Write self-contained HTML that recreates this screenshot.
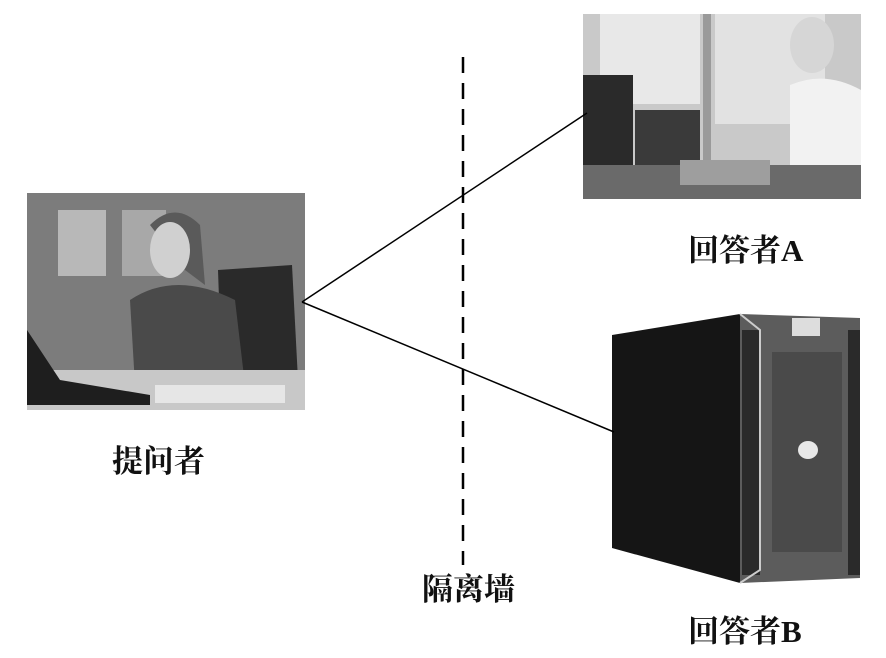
<!DOCTYPE html>
<html><head><meta charset="utf-8"><style>
body{margin:0;background:#fff;}
svg{display:block}
text{font-family:"Liberation Serif","Noto Serif CJK SC",serif;font-weight:bold;font-size:31px;fill:#111}
</style></head><body>
<svg width="886" height="658" viewBox="0 0 886 658" xmlns="http://www.w3.org/2000/svg">
<!-- left photo -->
<rect x="27" y="193" width="278" height="217" fill="#7c7c7c"/>
<rect x="58" y="210" width="48" height="66" fill="#b8b8b8"/>
<rect x="122" y="210" width="44" height="66" fill="#a8a8a8"/>
<path d="M218 270 L292 265 L298 380 L222 385Z" fill="#2a2a2a"/>
<path d="M150 225 Q175 200 200 225 L205 285 L185 270Z" fill="#5a5a5a"/>
<ellipse cx="170" cy="250" rx="20" ry="28" fill="#d0d0d0"/>
<path d="M130 300 Q175 270 235 300 L245 385 L135 385Z" fill="#4a4a4a"/>
<rect x="27" y="370" width="278" height="40" fill="#c8c8c8"/>
<path d="M27 330 L60 380 L150 395 L150 405 L27 405Z" fill="#1e1e1e"/>
<rect x="155" y="385" width="130" height="18" fill="#e6e6e6"/>
<!-- top right photo -->
<rect x="583" y="14" width="278" height="185" fill="#c9c9c9"/>
<rect x="600" y="14" width="100" height="90" fill="#e8e8e8"/>
<rect x="715" y="14" width="110" height="110" fill="#e2e2e2"/>
<rect x="703" y="14" width="8" height="150" fill="#9a9a9a"/>
<rect x="583" y="75" width="50" height="110" fill="#2a2a2a"/>
<rect x="635" y="110" width="65" height="60" fill="#3a3a3a"/>
<ellipse cx="812" cy="45" rx="22" ry="28" fill="#d6d6d6"/>
<path d="M790 85 Q825 70 861 90 L861 199 L790 199Z" fill="#f2f2f2"/>
<rect x="583" y="165" width="278" height="34" fill="#6a6a6a"/>
<rect x="680" y="160" width="90" height="25" fill="#9e9e9e"/>
<!-- server -->
<path d="M612 335 L740 314 L740 583 L612 548Z" fill="#151515"/>
<path d="M740 314 L860 318 L860 578 L740 583Z" fill="#5c5c5c"/>
<rect x="772" y="352" width="70" height="200" fill="#4a4a4a"/>
<rect x="742" y="330" width="18" height="245" fill="#2a2a2a"/>
<rect x="848" y="330" width="12" height="245" fill="#2a2a2a"/>
<rect x="792" y="318" width="28" height="18" fill="#ddd"/>
<ellipse cx="808" cy="450" rx="10" ry="9" fill="#e8e8e8"/>
<path d="M740 314 L760 330 L760 570 L740 583" fill="none" stroke="#ccc" stroke-width="2"/>
<!-- lines -->
<line x1="463" y1="57" x2="463" y2="565" stroke="#000" stroke-width="2.5" stroke-dasharray="16,10"/>
<line x1="302" y1="302" x2="587" y2="113" stroke="#000" stroke-width="1.5"/>
<line x1="302" y1="302" x2="614" y2="432" stroke="#000" stroke-width="1.5"/>
<text x="112" y="472">提问者</text>
<text x="688" y="261">回答者A</text>
<text x="422" y="600">隔离墙</text>
<text x="688" y="642">回答者B</text>
</svg>
</body></html>
